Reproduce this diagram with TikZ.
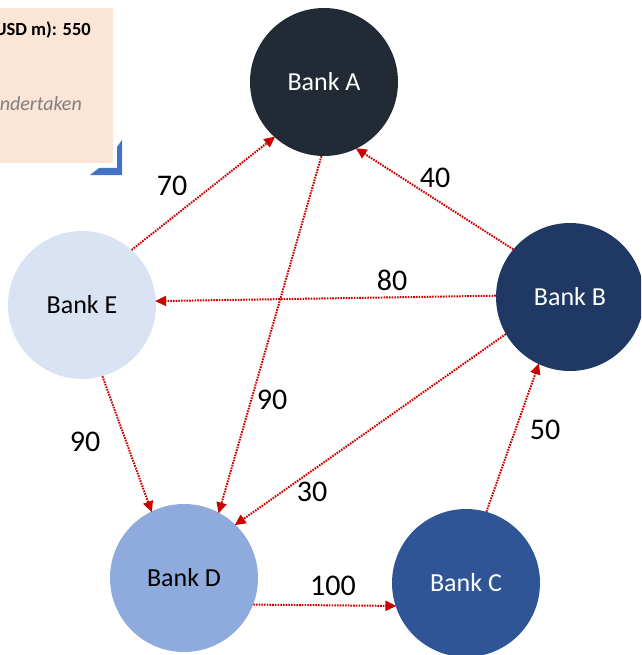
\documentclass[tikz,border=0pt]{standalone}
\usepackage{fontspec}
\setmainfont{Carlito}
\usetikzlibrary{arrows.meta}
\definecolor{bankA}{HTML}{222A35}
\definecolor{bankB}{HTML}{1F3864}
\definecolor{bankC}{HTML}{2F5597}
\definecolor{bankD}{HTML}{8FAADC}
\definecolor{bankE}{HTML}{DAE3F3}
\definecolor{flow}{HTML}{CC0000}
\definecolor{notefill}{HTML}{FBE5D6}
\definecolor{notegray}{HTML}{7F7F7F}
\definecolor{cornerblue}{HTML}{4472C4}
\tikzset{
  bank/.style={circle, minimum size=148pt, inner sep=0pt, font=\fontsize{26}{28}\selectfont},
  flowline/.style={draw=flow, line width=2pt, dash pattern=on 1.6pt off 1.1pt,
    -{Triangle[length=11pt,width=10pt,fill=flow]}, shorten >=-1pt},
  amount/.style={font=\fontsize{30}{32}\selectfont, text=black, inner sep=0pt},
}
\begin{document}
\begin{tikzpicture}[x=1pt,y=-1pt]
\useasboundingbox (0,0) rectangle (641,655);
\clip (0,0) rectangle (641,655);

% note box with corner mark
\fill[notefill] (-5,8) rectangle (113,163);
\node[anchor=east, inner sep=0pt, font=\fontsize{18.5}{20}\selectfont\bfseries] (notetitle) at (91,30) {USD m): 550};
\node[anchor=east, inner sep=0pt, font=\fontsize{20}{22}\selectfont\itshape, text=notegray] (notetext) at (82,104) {ndertaken};
\fill[cornerblue] (117,147) -- (122,140) -- (122,175) -- (90,175) -- (99,168) -- (117,168) -- cycle;

% banks
\node[bank, fill=bankA, text=white] (A) at (324,82) {Bank A};
\node[bank, fill=bankB, text=white] (B) at (570,297) {Bank B};
\node[bank, fill=bankC, text=white] (C) at (466,583) {Bank C};
\node[bank, fill=bankD, text=black] (D) at (184,578) {Bank D};
\node[bank, fill=bankE, text=black] (E) at (82,305) {Bank E};

% exposures
\draw[flowline] (E.48) -- (A.228);
\draw[flowline] (B.140) -- (A.296);
\draw[flowline] (B.179) -- (E.3);
\draw[flowline] (A.268) -- (D.62);
\draw[flowline] (E.286) -- (D.116);
\draw[flowline] (B.210) -- (D.46);
\draw[flowline] (D.339) -- (C.198);
\draw[flowline] (C.74) -- (B.245);

% amounts
\node[amount] (l70) at (172,186) {70};
\node[amount] (l40) at (435,178) {40};
\node[amount] (l80) at (392,280) {80};
\node[amount] (l90a) at (272,400) {90};
\node[amount] (l90e) at (85,442) {90};
\node[amount] (l30) at (312,492) {30};
\node[amount] (l100) at (333,586) {100};
\node[amount] (l50) at (545,430) {50};
\end{tikzpicture}
\end{document}
